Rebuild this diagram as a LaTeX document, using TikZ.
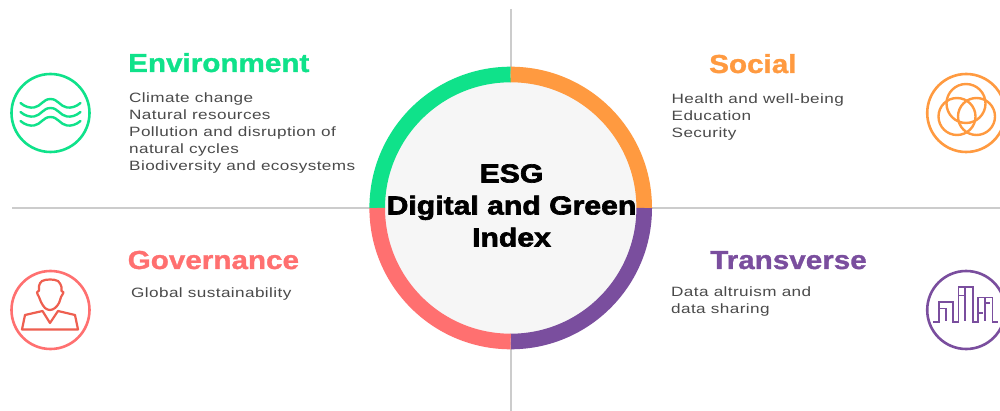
\documentclass[tikz,border=0pt]{standalone}
\usepackage{fontspec}
\setmainfont{Liberation Sans}
\newfontfamily\bodyf[FakeStretch=1.27,LetterSpace=3]{Liberation Sans}
\newfontfamily\headf[FakeStretch=1.14,FakeBold=1.2]{Liberation Sans Bold}
\newfontfamily\centf[FakeStretch=1.16,FakeBold=2.5]{Liberation Sans Bold}
\definecolor{cgreen}{HTML}{0FE28A}
\definecolor{corange}{HTML}{FF9A40}
\definecolor{cred}{HTML}{FF7070}
\definecolor{cdred}{HTML}{EE5F50}
\definecolor{cpurple}{HTML}{7A4E9E}
\definecolor{caxis}{HTML}{CCCCCC}
\definecolor{ctext}{HTML}{4A4A4A}
\definecolor{cfill}{HTML}{F6F6F6}
\tikzset{
  x=1pt,y=-1pt,
  heading/.style={anchor=base west,inner sep=0pt,font=\headf\fontsize{26}{26}\selectfont},
  bodytext/.style={anchor=north west,inner sep=0pt,align=left,text=ctext,font=\bodyf\fontsize{13.5}{16.9}\selectfont},
  ringarc/.style={line width=15.6pt,line cap=butt},
  badge/.style={line width=2.6pt},
  glyph/.style={line width=2.2pt,line cap=round,line join=round},
  axis/.style={draw=caxis,line width=1.6pt}
}
\begin{document}
\begin{tikzpicture}
\useasboundingbox (0,0) rectangle (1000,411);
\fill[white] (0,0) rectangle (1000,411);
\coordinate (c) at (510.7,208);
\draw[axis] (510.7,9) -- (510.7,411);
\draw[axis] (12,208) -- (1000,208);
\fill[cfill] (c) circle[radius=134];
\draw[ringarc,cgreen] (510.7,74.5) arc[start angle=-90,end angle=-180,radius=133.5];
\draw[ringarc,corange] (510.7,74.5) arc[start angle=-90,end angle=0,radius=133.5];
\draw[ringarc,cpurple] (510.7,341.5) arc[start angle=90,end angle=0,radius=133.5];
\draw[ringarc,cred] (510.7,341.5) arc[start angle=90,end angle=180,radius=133.5];
\node[inner sep=0pt,align=center,font=\centf\fontsize{26}{32}\selectfont] (title) at (511.5,205.5) {ESG\\Digital and Green\\Index};
% headings
\node[heading,text=cgreen] (henv) at (128,72) {Environment};
\node[heading,text=corange] (hsoc) at (709,73) {Social};
\node[heading,text=cred] (hgov) at (127.5,269) {Governance};
\node[heading,text=cpurple] (htra) at (710,269) {Transverse};
% bodies
\node[bodytext] (benv) at (129,92.5) {Climate change\\Natural resources\\Pollution and disruption of\\natural cycles\\Biodiversity and ecosystems};
\node[bodytext] (bsoc) at (671.5,94) {Health and well-being\\Education\\Security};
\node[bodytext] (bgov) at (131,288) {Global sustainability};
\node[bodytext] (btra) at (671,287) {Data altruism and\\data sharing};
% environment badge
\draw[badge,cgreen] (50.5,113) circle[radius=39];
\foreach \dy in {0,9,18}{
 \draw[glyph,cgreen,line width=2.4pt,shift={(0,\dy)}] (20.5,103) .. controls (25,107) and (30,108) .. (34,107.5) .. controls (41,106.5) and (43,99) .. (50.5,99) .. controls (58,99) and (60,106.5) .. (67,107.5) .. controls (71,108) and (76,107) .. (80.5,103);
}
% social badge
\draw[badge,corange] (966.2,113) circle[radius=39];
\begin{scope}[corange,line width=2.4pt]
\draw (966,103.5) circle[radius=19.5];
\draw (957,116.5) circle[radius=18.5];
\draw (976.5,116.5) circle[radius=18.5];
\end{scope}
% governance badge
\draw[badge,cred] (50.5,310) circle[radius=39];
\draw[glyph,cdred] plot[smooth cycle,tension=0.6] coordinates {(50,279.5) (58,281) (61.5,287) (61.5,291) (63.5,292.5) (61,297) (59,303) (55,308) (50,310) (45,308) (41,302) (39,297) (37,292.5) (39,290.5) (39,286) (42,281)};
\draw[glyph,cdred] (22,329.5) -- (78,329.5) -- (75,315) -- (58,311) -- (50,323) -- (42.5,311) -- (25,315) -- cycle;
% transverse badge
\draw[badge,cpurple] (966.2,310) circle[radius=39];
\begin{scope}[cpurple,line width=1.8pt,line join=miter]
\draw (933,321.7) -- (939,321.7) -- (939,302) -- (953,302) -- (953,321.7) -- (958.5,321.7) -- (958.5,287) -- (973,287) -- (973,321.7) -- (978,321.7) -- (978,297.5) -- (992.5,297.5) -- (992.5,321.7) -- (998,321.7);
\draw (939,308.5) -- (946,308.5) -- (946,321);
\draw (958.5,295.5) -- (965,295.5);
\draw (965,287) -- (965,321);
\draw (985,297.5) -- (985,321);
\draw (985,303) -- (990,303);
\draw (978,313) -- (983,313);
\end{scope}
\end{tikzpicture}
\end{document}
